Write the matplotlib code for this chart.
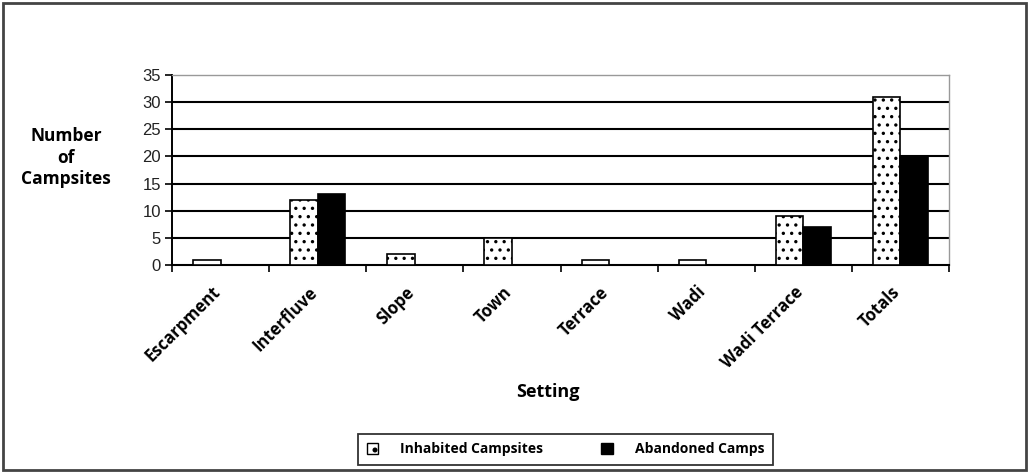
import numpy as np
import matplotlib
matplotlib.use('Agg')
import matplotlib.pyplot as plt
from matplotlib.patches import Rectangle, Patch

settings = ['Escarpment', 'Interfluve', 'Slope', 'Town', 'Terrace', 'Wadi', 'Wadi Terrace', 'Totals']
inhabited = [1, 12, 2, 5, 1, 1, 9, 31]
abandoned = [0, 13, 0, 0, 0, 0, 7, 20]

plt.rcParams['hatch.linewidth'] = 1.2
lab_font = ['Open Sans', 'DejaVu Sans']

fig = plt.figure(figsize=(10.29, 4.73), dpi=100)
ax = fig.add_axes([0.1672, 0.4397, 0.7551, 0.4017])

x = np.arange(len(settings))
w = 0.283
ax.bar(x - w/2, inhabited, width=w, color='white', edgecolor='black', linewidth=1.2, hatch='..', zorder=3)
ax.bar(x + w/2, abandoned, width=w, color='black', edgecolor='black', linewidth=1.2, zorder=3)

ax.set_xlim(-0.5, len(settings) - 0.5)
ax.set_ylim(0, 35)
ax.set_yticks(range(0, 36, 5))
for v in range(5, 35, 5):
    ax.axhline(v, color='black', lw=1.5, zorder=1)

# category boundaries get the tick marks, labels sit a bit left of centre
ax.set_xticks(np.arange(-0.5, len(settings), 1.0))
ax.set_xticklabels([])
ax.set_xticks(x - 0.1, minor=True)
ax.set_xticklabels(settings, minor=True, rotation=45, ha='right', rotation_mode='anchor',
                   fontsize=12, fontweight='bold', family=lab_font)
ax.tick_params(axis='x', which='major', direction='out', length=5, width=1.2, color='black')
ax.tick_params(axis='x', which='minor', length=0, pad=13)
ax.tick_params(axis='y', direction='out', length=5, width=1.2, labelsize=12, pad=3)
for lbl in ax.get_yticklabels():
    lbl.set_family(['Liberation Sans', 'DejaVu Sans'])
    lbl.set_color('#222222')

ax.spines['left'].set_linewidth(1.4)
ax.spines['bottom'].set_linewidth(1.5)
ax.spines['top'].set_color('#999999')
ax.spines['right'].set_color('#999999')
ax.spines['top'].set_linewidth(1.0)
ax.spines['right'].set_linewidth(1.0)

fig.text(0.064, 0.666, 'Number\nof\nCampsites', ha='center', va='center', fontsize=12.5,
         fontweight='bold', family=lab_font, linespacing=1.25)
fig.text(0.5326, 0.171, 'Setting', ha='center', va='center', fontsize=13,
         fontweight='bold', family=lab_font)

h1 = Patch(facecolor='white', edgecolor='black', hatch='.', linewidth=1.0)
h2 = Patch(facecolor='black', edgecolor='black')
leg = fig.legend([h1, h2], ['Inhabited Campsites', 'Abandoned Camps'], ncol=2,
                 loc='center', bbox_to_anchor=(0.5496, 0.0497), frameon=True, fancybox=False,
                 edgecolor='black', handlelength=0.8, handleheight=0.8, handletextpad=1.6,
                 columnspacing=4.2, borderpad=0.6, prop={'family': lab_font, 'weight': 'bold', 'size': 10})
leg.get_frame().set_linewidth(1.3)

fig.patches.append(Rectangle((0.003, 0.006), 0.994, 0.988, transform=fig.transFigure,
                             fill=False, edgecolor='#444444', linewidth=2.0))

fig.savefig('out.png', dpi=100)
